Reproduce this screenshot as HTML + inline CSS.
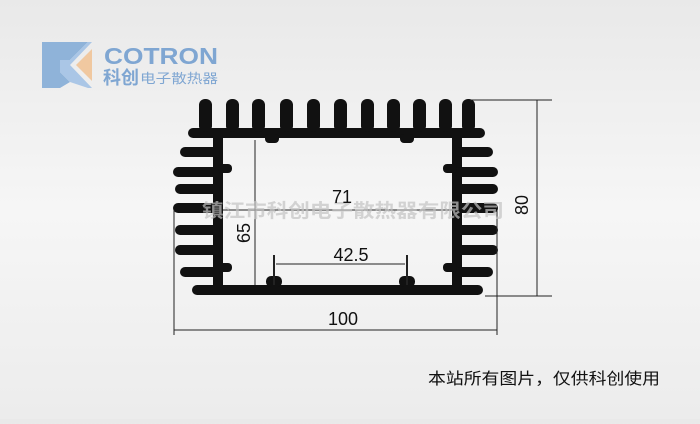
<!DOCTYPE html>
<html><head><meta charset="utf-8"><style>
html,body{margin:0;padding:0}
body{width:700px;height:419px;overflow:hidden;background:linear-gradient(180deg,#e9e9e9 0%,#f6f6f6 50%,#ececec 100%);font-family:"Liberation Sans","Noto Sans CJK SC",sans-serif}
</style></head><body>
<svg width="700" height="419" viewBox="0 0 700 419" xmlns="http://www.w3.org/2000/svg">
<!-- logo -->
<polygon points="42,42 88,42 70,60 60,60 60,72 70,82 60,88 42,88" fill="#8fb3d9"/>
<polygon points="60,60 70,60 88,42 92,42 70,65 92,88 88,88 70,82 60,72" fill="#aac6e6"/>
<polygon points="76,65 92,49 92,81" fill="#f0c8a0"/>
<text x="104" y="64" font-size="23" font-weight="bold" fill="#7fa6d2" textLength="114" lengthAdjust="spacingAndGlyphs">COTRON</text>
<text x="103" y="84" font-size="18" font-weight="bold" fill="#7fa6d2">科创</text>
<text x="140" y="83" font-size="13" fill="#7fa6d2" textLength="78" lengthAdjust="spacingAndGlyphs">电子散热器</text>
<g fill="#111">
<rect x="188" y="128" width="297" height="10" rx="5"/>
<g>
<rect x="199" y="99" width="13" height="33" rx="6"/>
<rect x="226" y="99" width="13" height="33" rx="6"/>
<rect x="252" y="99" width="13" height="33" rx="6"/>
<rect x="280" y="99" width="13" height="33" rx="6"/>
<rect x="307" y="99" width="13" height="33" rx="6"/>
<rect x="334" y="99" width="13" height="33" rx="6"/>
<rect x="361" y="99" width="13" height="33" rx="6"/>
<rect x="387" y="99" width="13" height="33" rx="6"/>
<rect x="413" y="99" width="13" height="33" rx="6"/>
<rect x="439" y="99" width="13" height="33" rx="6"/>
<rect x="462" y="99" width="13" height="33" rx="6"/>
<rect x="213" y="133" width="10" height="160"/>
<rect x="452" y="133" width="10" height="160"/>
<rect x="192" y="285" width="291" height="10" rx="5"/>
<rect x="180" y="147" width="40" height="10" rx="5"/>
<rect x="173" y="167" width="47" height="10" rx="5"/>
<rect x="175" y="184" width="45" height="10" rx="5"/>
<rect x="173" y="203" width="47" height="10" rx="5"/>
<rect x="175" y="225" width="45" height="10" rx="5"/>
<rect x="175" y="245" width="45" height="10" rx="5"/>
<rect x="180" y="267" width="40" height="10" rx="5"/>
<rect x="455" y="147" width="38" height="10" rx="5"/>
<rect x="455" y="167" width="43" height="10" rx="5"/>
<rect x="455" y="184" width="43" height="10" rx="5"/>
<rect x="455" y="203" width="43" height="10" rx="5"/>
<rect x="455" y="225" width="43" height="10" rx="5"/>
<rect x="455" y="245" width="43" height="10" rx="5"/>
<rect x="455" y="267" width="38" height="10" rx="5"/>
<rect x="218" y="164" width="14" height="9" rx="4"/>
<rect x="218" y="263" width="14" height="9" rx="4"/>
<rect x="443" y="164" width="14" height="9" rx="4"/>
<rect x="443" y="263" width="14" height="9" rx="4"/>
<rect x="265" y="134" width="14" height="9" rx="4"/>
<rect x="400" y="134" width="14" height="9" rx="4"/>
<rect x="266" y="276" width="16" height="11" rx="5"/>
<rect x="399" y="276" width="16" height="11" rx="5"/>
</g>
</g>
<g stroke="#222" stroke-width="1" fill="none">
<line x1="274" y1="255" x2="274" y2="285" stroke-width="2"/>
<line x1="407" y1="255" x2="407" y2="285" stroke-width="2"/>
<line x1="470" y1="100" x2="552" y2="100"/>
<line x1="485" y1="296" x2="552" y2="296"/>
<line x1="537" y1="100" x2="537" y2="296"/>
<line x1="174" y1="210" x2="174" y2="335"/>
<line x1="497" y1="210" x2="497" y2="335"/>
<line x1="174" y1="330" x2="497" y2="330"/>
<line x1="223" y1="210" x2="452" y2="210"/>
<line x1="255" y1="140" x2="255" y2="285"/>
<line x1="276" y1="264" x2="405" y2="264"/>
</g>
<text x="202" y="217" font-size="19" font-weight="bold" fill="#c4c4c4" opacity="0.7" textLength="302" lengthAdjust="spacingAndGlyphs">镇江市科创电子散热器有限公司</text>
<g font-size="18" fill="#111">
<text x="342" y="203" text-anchor="middle">71</text>
<text x="351" y="261" text-anchor="middle">42.5</text>
<text x="343" y="325" text-anchor="middle">100</text>
<text transform="translate(528,205) rotate(-90)" text-anchor="middle">80</text>
<text transform="translate(250,233) rotate(-90)" text-anchor="middle">65</text>
</g>
<text x="428" y="384" font-size="16" fill="#111" textLength="232" lengthAdjust="spacingAndGlyphs">本站所有图片，仅供科创使用</text>
</svg>
</body></html>
